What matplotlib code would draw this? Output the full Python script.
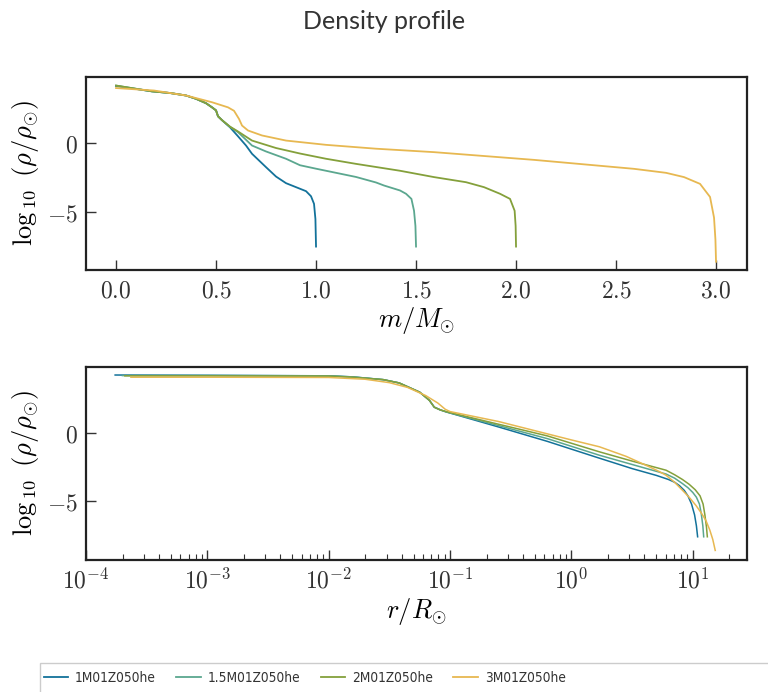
import numpy as np
import matplotlib
matplotlib.use("Agg")
import matplotlib.pyplot as plt
from matplotlib.patches import Rectangle
from matplotlib.font_manager import FontProperties
from matplotlib.ticker import FuncFormatter, LogLocator, NullFormatter

plt.rcParams["mathtext.fontset"] = "cm"

labels = ["1M01Z050he", "1.5M01Z050he", "2M01Z050he", "3M01Z050he"]
colors = ["#13729a", "#5ba78f", "#84a03b", "#e7b851"]

# top panel: log10 density vs enclosed mass (m/Msun)
m_1 = [0.0, 0.18, 0.27, 0.35, 0.4, 0.45, 0.48, 0.5, 0.51, 0.53, 0.57, 0.61, 0.65, 0.68,
       0.75, 0.8, 0.85, 0.9, 0.95, 0.975, 0.99, 0.997, 1.0]
rho_m_1 = [4.15, 3.76, 3.64, 3.46, 3.22, 2.9, 2.6, 2.38, 1.95, 1.67, 1.15, 0.5, -0.17, -0.77,
           -1.74, -2.42, -2.9, -3.19, -3.48, -3.85, -4.4, -5.5, -7.5]

m_15 = [0.0, 0.18, 0.27, 0.35, 0.4, 0.45, 0.48, 0.5, 0.51, 0.53, 0.57, 0.61, 0.68, 0.75,
        0.85, 0.92, 1.0, 1.1, 1.2, 1.3, 1.34, 1.42, 1.45, 1.477, 1.49, 1.497, 1.5]
rho_m_15 = [4.18, 3.76, 3.64, 3.46, 3.22, 2.9, 2.6, 2.38, 1.95, 1.67, 1.18, 0.8, -0.17, -0.6,
            -1.13, -1.6, -1.85, -2.15, -2.45, -2.85, -3.07, -3.43, -3.67, -4.04, -4.9, -6.0, -7.5]

m_2 = [0.0, 0.18, 0.27, 0.35, 0.4, 0.45, 0.48, 0.5, 0.51, 0.53, 0.57, 0.61, 0.68, 0.8,
       0.92, 1.05, 1.2, 1.42, 1.59, 1.75, 1.84, 1.92, 1.97, 1.993, 1.998, 2.0]
rho_m_2 = [4.18, 3.76, 3.64, 3.46, 3.22, 2.9, 2.6, 2.38, 1.95, 1.67, 1.2, 0.85, 0.19, -0.35,
           -0.75, -1.13, -1.5, -2.0, -2.46, -2.83, -3.19, -3.67, -4.04, -4.9, -6.0, -7.5]

m_3 = [0.0, 0.19, 0.35, 0.48, 0.56, 0.59, 0.615, 0.63, 0.66, 0.73, 0.85, 1.05, 1.3,
       1.59, 2.09, 2.59, 2.75, 2.84, 2.92, 2.97, 2.99, 2.997, 3.0]
rho_m_3 = [4.0, 3.82, 3.46, 2.97, 2.6, 2.35, 1.76, 1.28, 0.92, 0.56, 0.19, -0.12, -0.4,
           -0.65, -1.21, -1.86, -2.15, -2.46, -2.95, -3.9, -5.4, -7.0, -8.6]

# bottom panel: log10 density vs log10(r/Rsun)
logr_1 = [-3.76, -3.0, -2.0, -1.8, -1.55, -1.42, -1.25, -1.17, -1.13, -1.08, -1.03, -0.6,
          -0.2, 0.2, 0.5, 0.7, 0.8, 0.85, 0.89, 0.93, 0.96, 0.99, 1.015, 1.03, 1.04]
rho_r_1 = [4.26, 4.24, 4.2, 4.12, 3.92, 3.68, 3.0, 2.4, 1.9, 1.7, 1.55, 0.45,
           -0.6, -1.75, -2.6, -3.1, -3.4, -3.6, -3.85, -4.2, -4.6, -5.2, -6.0, -6.8, -7.6]

logr_15 = [-3.7, -3.0, -2.0, -1.8, -1.55, -1.42, -1.25, -1.17, -1.13, -1.08, -1.03, -0.6,
           -0.2, 0.23, 0.5, 0.78, 0.85, 0.915, 0.96, 1.0, 1.03, 1.055, 1.07, 1.083, 1.09]
rho_r_15 = [4.22, 4.22, 4.2, 4.12, 3.92, 3.68, 3.0, 2.4, 1.9, 1.7, 1.55, 0.55,
            -0.4, -1.62, -2.3, -3.0, -3.3, -3.7, -4.0, -4.35, -4.7, -5.2, -5.9, -6.8, -7.6]

logr_2 = [-3.68, -3.0, -2.0, -1.8, -1.55, -1.42, -1.25, -1.17, -1.13, -1.08, -1.03, -0.6,
          -0.2, 0.23, 0.5, 0.78, 0.85, 0.915, 0.97, 1.02, 1.06, 1.085, 1.1, 1.113, 1.12]
rho_r_2 = [4.2, 4.2, 4.18, 4.1, 3.92, 3.68, 3.0, 2.4, 1.9, 1.7, 1.57, 0.65,
           -0.2, -1.37, -2.05, -2.72, -3.05, -3.4, -3.75, -4.15, -4.6, -5.2, -6.0, -6.9, -7.6]

logr_3 = [-3.63, -3.0, -2.0, -1.7, -1.5, -1.35, -1.2, -1.1, -1.04, -1.0, -0.6, -0.4,
          -0.2, 0.0, 0.23, 0.45, 0.642, 0.72, 0.78, 0.85, 0.915, 0.97, 1.026, 1.07,
          1.108, 1.14, 1.165, 1.185]
rho_r_3 = [4.1, 4.1, 4.08, 3.95, 3.7, 3.35, 2.75, 2.2, 1.75, 1.58, 0.85, 0.4,
           -0.05, -0.5, -1.0, -1.7, -2.47, -2.8, -3.09, -3.6, -4.19, -4.7, -5.3, -5.85,
           -6.4, -7.1, -7.8, -8.6]

mass_series = [(m_1, rho_m_1), (m_15, rho_m_15), (m_2, rho_m_2), (m_3, rho_m_3)]
radius_series = [(logr_1, rho_r_1), (logr_15, rho_r_15), (logr_2, rho_r_2), (logr_3, rho_r_3)]

fig = plt.figure(figsize=(7.68, 6.92), dpi=100)
ax1 = fig.add_axes([0.112, 0.6098, 0.8607, 0.2789])
ax2 = fig.add_axes([0.112, 0.1908, 0.8607, 0.2789])

lines = []
for (x, y), c, lab in zip(mass_series, colors, labels):
    ln, = ax1.plot(x, y, color=c, lw=1.3, label=lab)
    lines.append(ln)
for (x, y), c in zip(radius_series, colors):
    ax2.plot(10 ** np.array(x), y, color=c, lw=1.1)

ax1.set_xlim(-0.15, 3.155)
ax1.set_ylim(-9.2, 4.8)
ax2.set_xscale("log")
ax2.set_xlim(1e-4, 28)
ax2.set_ylim(-9.3, 4.85)

ax1.set_xticks([0.0, 0.5, 1.0, 1.5, 2.0, 2.5, 3.0])
ax1.xaxis.set_major_formatter(FuncFormatter(lambda v, p: f"${v:.1f}$"))
ymt = FuncFormatter(lambda v, p: f"${int(round(v))}$")
for ax in (ax1, ax2):
    ax.set_yticks([-5, 0])
    ax.yaxis.set_major_formatter(ymt)
    ax.tick_params(direction="in", which="major", length=7, width=1.0, colors="#333333",
                   labelsize=17, top=False, right=False, pad=6)
    ax.tick_params(direction="in", which="minor", length=4, width=0.8, colors="#333333",
                   top=False, right=False)
    for s in ax.spines.values():
        s.set_linewidth(1.6)
        s.set_color("#222222")
    ax.set_ylabel(r"$\log_{\,10}\ (\rho/\rho_{\odot})$", fontsize=19, labelpad=4)

ax2.xaxis.set_major_locator(LogLocator(base=10, numticks=10))
ax2.xaxis.set_minor_locator(LogLocator(base=10, subs=np.arange(2, 10), numticks=20))
ax2.xaxis.set_major_formatter(FuncFormatter(lambda v, p: f"$10^{{{int(round(np.log10(v)))}}}$"))
ax2.xaxis.set_minor_formatter(NullFormatter())

ax1.set_xlabel(r"$m/M_{\odot}$", fontsize=19, labelpad=2)
ax2.set_xlabel(r"$r/R_{\odot}$", fontsize=19, labelpad=2)

fig.suptitle("Density profile", fontsize=18, color="#333333", family="Lato", y=0.985)

# legend box runs off the right edge, as in the original
fig.patches.append(Rectangle((40 / 768, -0.02), 0.99, 0.0619, transform=fig.transFigure,
                             facecolor="white", edgecolor="#cccccc", linewidth=1.0))
leg_font = FontProperties(family="DejaVu Sans", stretch="condensed", size=9.8)
leg = fig.legend(handles=lines, labels=labels, loc="center left", ncol=4,
                 bbox_to_anchor=(0.05, 14 / 692), frameon=False, borderaxespad=0,
                 prop=leg_font, handlelength=1.8, handletextpad=0.5, columnspacing=1.5,
                 labelcolor="#333333")

fig.savefig("out.png", dpi=100)
